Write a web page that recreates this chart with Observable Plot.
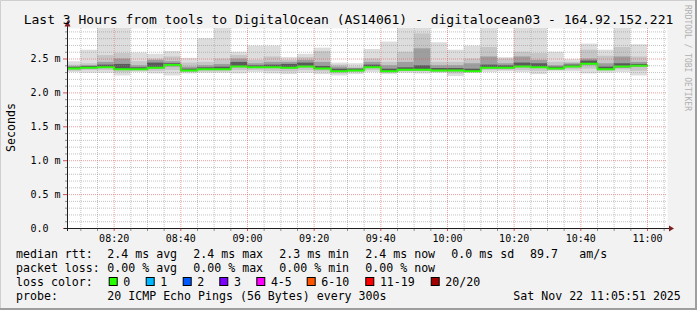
<!DOCTYPE html>
<html><head><meta charset="utf-8">
<script src="https://cdn.jsdelivr.net/npm/d3@7"></script>
<script src="https://cdn.jsdelivr.net/npm/@observablehq/plot@0.6"></script>
<style>
html,body{margin:0;padding:0;background:#f2f2f2;}
#wrap{position:relative;width:697px;height:310px;background:#f2f2f2;overflow:hidden;}
#wrap svg{position:absolute;left:0;top:0;}
</style></head><body><div id="wrap"></div>
<script>
// ---- data (ms) : 5-minute steps, labelled by step end time ----
const barEnd = ["08:10","08:15","08:20","08:25","08:30","08:35","08:40","08:45","08:50","08:55",
  "09:00","09:05","09:10","09:15","09:20","09:25","09:30","09:35","09:40","09:45","09:50","09:55",
  "10:00","10:05","10:10","10:15","10:20","10:25","10:30","10:35","10:40","10:45","10:50","10:55","11:00"];
const rttMax = [2.46,2.63,2.95,2.95,2.59,2.57,2.61,2.51,2.80,2.95,2.60,2.69,2.69,2.52,2.57,2.66,2.44,2.43,2.64,2.75,2.95,2.95,2.74,2.63,2.69,2.95,2.52,2.95,2.95,2.60,2.49,2.72,2.63,2.95,2.71];
const rttHi2 = [2.41,2.43,2.55,2.58,2.46,2.50,2.53,2.44,2.45,2.50,2.55,2.48,2.53,2.48,2.52,2.61,2.41,2.38,2.50,2.45,2.60,2.87,2.45,2.45,2.50,2.67,2.50,2.60,2.58,2.45,2.45,2.63,2.54,2.67,2.53];
const rttHi3 = [2.38,2.40,2.45,2.50,2.40,2.48,2.46,2.38,2.40,2.42,2.50,2.43,2.45,2.45,2.48,2.45,2.38,2.36,2.45,2.40,2.45,2.65,2.40,2.40,2.43,2.53,2.43,2.53,2.48,2.40,2.43,2.50,2.43,2.53,2.45];
const rttHi4 = [2.38,2.39,2.41,2.42,2.37,2.44,2.43,2.35,2.37,2.38,2.45,2.40,2.41,2.42,2.44,2.39,2.35,2.35,2.41,2.35,2.37,2.40,2.36,2.36,2.35,2.41,2.40,2.44,2.43,2.38,2.41,2.47,2.38,2.43,2.42];
const rttMedian = [2.36,2.37,2.38,2.35,2.35,2.37,2.41,2.33,2.35,2.35,2.39,2.38,2.38,2.37,2.39,2.36,2.32,2.33,2.38,2.32,2.34,2.34,2.33,2.33,2.32,2.37,2.37,2.39,2.38,2.36,2.39,2.43,2.35,2.39,2.40];
const rttLo4 = [2.35,2.36,2.37,2.34,2.34,2.36,2.40,2.32,2.34,2.34,2.38,2.37,2.37,2.36,2.38,2.35,2.31,2.32,2.37,2.31,2.33,2.33,2.32,2.32,2.31,2.36,2.36,2.38,2.37,2.35,2.38,2.42,2.34,2.37,2.39];
const rttLo3 = [2.34,2.35,2.36,2.33,2.33,2.35,2.38,2.31,2.33,2.33,2.37,2.36,2.36,2.35,2.37,2.34,2.30,2.31,2.36,2.30,2.32,2.32,2.31,2.31,2.30,2.35,2.35,2.37,2.36,2.34,2.37,2.40,2.33,2.37,2.38];
const rttLo2 = [2.32,2.33,2.33,2.30,2.32,2.32,2.33,2.30,2.31,2.31,2.33,2.33,2.32,2.31,2.33,2.31,2.28,2.30,2.33,2.29,2.31,2.31,2.30,2.28,2.30,2.33,2.33,2.33,2.32,2.33,2.34,2.35,2.32,2.34,2.32];
const rttMin = [2.30,2.29,2.29,2.25,2.30,2.28,2.25,2.28,2.29,2.29,2.28,2.30,2.28,2.27,2.29,2.27,2.25,2.27,2.30,2.27,2.29,2.28,2.29,2.24,2.29,2.30,2.31,2.30,2.27,2.31,2.31,2.28,2.29,2.30,2.25];

const yTicks = [0, 0.5, 1.0, 1.5, 2.0, 2.5];
const xTickLabels = ["08:20","08:40","09:00","09:20","09:40","10:00","10:20","10:40","11:00"];
const titleText = "Last 3 Hours from tools to DigitalOcean (AS14061) - digitalocean03 - 164.92.152.221";
const legendRtt = ["median rtt:","2.4 ms avg","2.4 ms max","2.3 ms min","2.4 ms now","0.0 ms sd","89.7","am/s"];
const legendLoss = ["packet loss:","0.00 % avg","0.00 % max","0.00 % min","0.00 % now"];
const lossLabels = ["0","1","2","3","4-5","6-10","11-19","20/20"];
const lossColors = ["#26ff00","#00b8ff","#0059ff","#7e00ff","#ff00ff","#ff5500","#ff0000","#a10000"];
const probeText = ["probe:","20 ICMP Echo Pings (56 Bytes) every 300s","Sat Nov 22 11:05:51 2025"];

// ---- build ----
const T = s => new Date(`2025-11-22T${s}:00Z`);
const rows = barEnd.map((e, i) => ({
  start: d3.utcMinute.offset(T(e), -5), end: T(e),
  min: rttMin[i], lo2: rttLo2[i], lo3: rttLo3[i], lo4: rttLo4[i], median: rttMedian[i],
  hi4: rttHi4[i], hi3: rttHi3[i], hi2: rttHi2[i], max: rttMax[i]
}));
const medianLine = rows.map(r => ({t: r.start, v: r.median}))
  .concat([{t: rows[rows.length-1].end, v: rows[rows.length-1].median}]);

const xDomain = [T("08:06"), T("11:06")];
const yTop = 2.95;
const minorX = d3.utcMinute.every(5).range(xDomain[0], xDomain[1]).filter(d => d.getUTCMinutes() % 20 !== 0);
const majorX = xTickLabels.map(T);
const minorY = d3.range(1, 30).map(k => k / 10).filter(v => Math.round(v * 10) % 5 !== 0 && v < yTop);
const majorY = yTicks.filter(v => v > 0);

const W = 697, H = 310, L = 67, R = 667, TOP = 28, BOT = 228;
const FONT = "DejaVu Sans Mono";
const gridMinor = {stroke: "#8f8f8f", strokeOpacity: 0.55, strokeDasharray: "1,1"};
const gridMajor = {stroke: "#de4f4f", strokeOpacity: 0.55, strokeDasharray: "1,1"};

const chart = Plot.plot({
  width: W, height: H,
  marginLeft: L, marginRight: W - R, marginTop: TOP, marginBottom: H - BOT,
  style: {background: "transparent", fontFamily: FONT, fontSize: "10px", color: "black", overflow: "visible"},
  x: {type: "utc", domain: xDomain},
  y: {domain: [0, yTop]},
  marks: [
    Plot.frame({fill: "white", stroke: "none"}),
    Plot.rect(rows, {x1: "start", x2: "end", y1: "min", y2: "max", fill: "#dddddd", clip: true}),
    Plot.rect(rows, {x1: "start", x2: "end", y1: "lo2", y2: "hi2", fill: "#c6c6c6", clip: true}),
    Plot.rect(rows, {x1: "start", x2: "end", y1: "lo3", y2: "hi3", fill: "#9e9e9e", clip: true}),
    Plot.rect(rows, {x1: "start", x2: "end", y1: "lo4", y2: "hi4", fill: "#5a5a5a", clip: true}),
    Plot.line(medianLine, {x: "t", y: "v", curve: "step-after", stroke: lossColors[0], strokeWidth: 2, clip: true}),
    Plot.ruleY(minorY, gridMinor),
    Plot.ruleX(minorX, gridMinor),
    Plot.ruleY(majorY, gridMajor),
    Plot.ruleX(majorX, gridMajor),
    Plot.axisX(minorX, {tickSize: 3, stroke: "#8f8f8f", tickFormat: null, text: null}),
    Plot.axisX(majorX, {tickSize: 3, tickPadding: 3, stroke: "#de4f4f", fill: "black",
      tickFormat: d3.utcFormat("%H:%M"), fontSize: 10, fontFamily: FONT, label: null}),
    Plot.axisY(minorY, {tickSize: 2, stroke: "#8f8f8f", text: null, label: null}),
    Plot.axisY(yTicks, {tickSize: 4, tickPadding: 3, stroke: "#de4f4f", fill: "black",
      tickFormat: d => d === 0 ? "0.0\u00a0\u00a0" : d.toFixed(1) + " m", fontSize: 10, fontFamily: FONT, label: null})
  ]
});
const wrap = document.getElementById("wrap");
wrap.appendChild(chart);

// ---- overlay: frame, axes arrows, texts ----
const svg = d3.select(wrap).append("svg").attr("width", W).attr("height", H)
  .style("font-family", FONT);
svg.append("path").attr("d", `M0.5,${H}V0.5H${W}`).attr("fill", "none").attr("stroke", "#cfcfcf").attr("stroke-width", 1);
svg.append("path").attr("d", `M${W-1},0V${H-1}H0`).attr("fill", "none").attr("stroke", "#9e9e9e").attr("stroke-width", 2);
svg.append("line").attr("x1", L + 0.5).attr("x2", L + 0.5).attr("y1", BOT + 3).attr("y2", 24).attr("stroke", "#1f1f1f");
svg.append("line").attr("x1", L - 3).attr("x2", R + 4).attr("y1", BOT + 0.5).attr("y2", BOT + 0.5).attr("stroke", "#1f1f1f");
svg.append("path").attr("d", `M${L+0.5},20.5L${L-2.5},26.5L${L+3.5},26.5Z`).attr("fill", "#801f1f");
svg.append("path").attr("d", `M${R+7},${BOT+0.5}L${R+2},${BOT-2.5}L${R+2},${BOT+3.5}Z`).attr("fill", "#801f1f");

svg.append("text").attr("x", W / 2).attr("y", 24).attr("text-anchor", "middle")
  .attr("font-size", 13).attr("fill", "black").text(titleText);
svg.append("text").attr("transform", "translate(14.5,127.5) rotate(-90)").attr("text-anchor", "middle")
  .attr("font-size", 11.6).attr("fill", "black").text("Seconds");
svg.append("text").attr("transform", "translate(684.5,5) rotate(90)").attr("text-anchor", "start")
  .attr("font-size", 8).attr("fill", "#b0b0b0").text("RRDTOOL / TOBI OETIKER");

const LF = 11.6;
const col = [16, 107.3, 193.3, 279.3, 365.3, 451.3, 530, 579.3];
const addText = (x, y, s) => svg.append("text").attr("x", x).attr("y", y).attr("font-size", LF).attr("fill", "black").style("white-space", "pre").text(s);
legendRtt.forEach((s, i) => addText(col[i], 258, s));
legendLoss.forEach((s, i) => addText(col[i], 271.7, s));
addText(16, 285.7, "loss color:");
const swX = [108.7, 145.7, 182.7, 219.3, 256.3, 306.7, 365.3, 430.7];
lossLabels.forEach((s, i) => {
  svg.append("rect").attr("x", swX[i] + 0.5).attr("y", 277.5).attr("width", 8).attr("height", 8)
    .attr("fill", lossColors[i]).attr("stroke", "black").attr("stroke-width", 1);
  addText(swX[i] + 14.6, 285.7, s);
});
addText(16, 299.5, probeText[0]);
addText(107.3, 299.5, probeText[1]);
addText(513.3, 299.5, probeText[2]);
</script>
</body></html>
